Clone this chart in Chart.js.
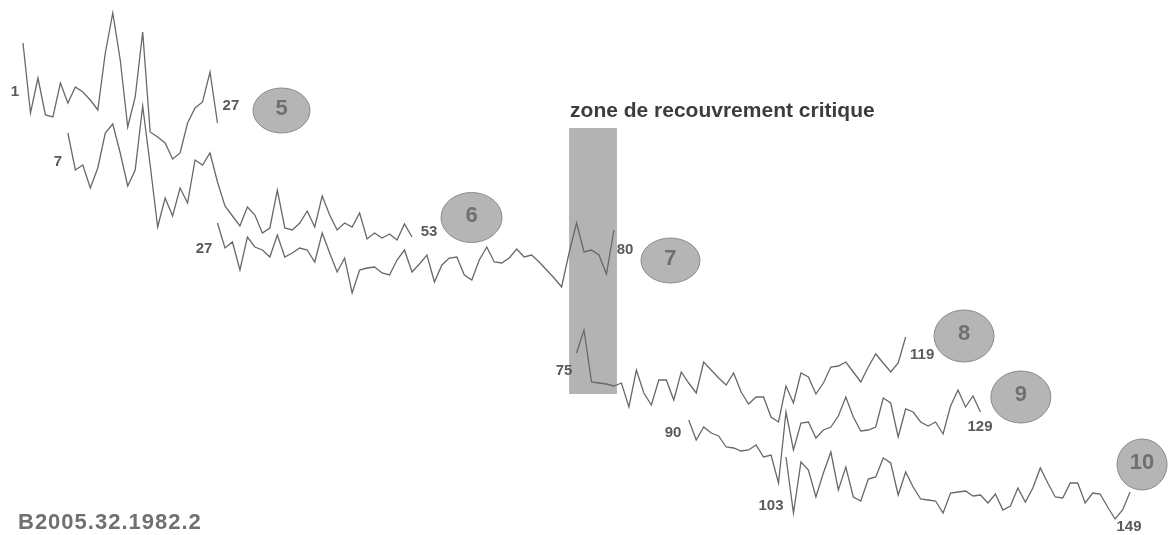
<!DOCTYPE html>
<html>
<head>
<meta charset="utf-8">
<script src="https://cdn.jsdelivr.net/npm/chart.js@4.4.1/dist/chart.umd.min.js"></script>
<style>
    html, body { margin: 0; padding: 0; background: #fff; }
    #wrap { position: relative; width: 1168px; height: 535px; }
    #caption {
        position: absolute; left: 18px; top: 511px;
        font: bold 22px "Liberation Sans", Arial, sans-serif; line-height: 22px;
        color: #707070; letter-spacing: 1px;
    }
</style>
</head>
<body>
<div id="wrap">
    <canvas id="chart"></canvas>
    <div id="caption">B2005.32.1982.2</div>
</div>
<script>
// séquences (numéro de cerne -> décalage vertical du tracé)
const seriesNames = ['5', '6', '7', '8', '9', '10'];
const startRings = [1, 7, 27, 75, 90, 103];

const seq5 = [43, 113, 78, 115, 117, 83, 103, 87, 92, 100, 110, 53, 13, 60, 127, 97, 32, 132, 137, 143,
    159, 153, 123, 108, 102, 72, 123];
const seq6 = [133, 170, 165, 188, 168, 133, 124, 153, 186, 170, 106, 165, 227, 198, 216, 188, 203, 160, 165, 153,
    182, 206, 216, 226, 207, 215, 233, 228, 190, 228, 230, 223, 211, 227, 196, 215, 230, 223, 227, 213,
    239, 233, 238, 234, 240, 224, 237];
const seq7 = [223, 248, 242, 270, 237, 247, 250, 257, 235, 257, 253, 248, 250, 262, 233, 253, 272, 258, 293, 270,
    268, 267, 273, 275, 260, 250, 272, 264, 255, 282, 265, 258, 257, 275, 280, 260, 247, 262, 263, 258,
    249, 257, 255, 262, 270, 278, 287, 253, 223, 252, 250, 255, 274, 230];
const seq8 = [353, 330, 382, 383, 384, 386, 383, 407, 370, 393, 405, 380, 380, 400, 372, 383, 393, 362, 370, 378,
    385, 373, 392, 404, 397, 397, 417, 422, 386, 403, 373, 377, 394, 383, 367, 366, 362, 372, 382, 367,
    354, 363, 372, 363, 337];
const seq9 = [420, 440, 427, 433, 436, 447, 448, 451, 450, 445, 457, 455, 483, 412, 450, 423, 422, 438, 430, 427,
    416, 397, 417, 431, 430, 427, 398, 403, 437, 409, 412, 422, 426, 422, 434, 406, 390, 407, 396, 412];
const seq10 = [457, 513, 462, 470, 497, 473, 452, 490, 467, 497, 501, 479, 477, 458, 463, 495, 472, 487, 499, 500,
    501, 513, 493, 492, 491, 496, 495, 503, 494, 510, 506, 488, 502, 488, 468, 483, 497, 498, 483, 483,
    503, 493, 494, 507, 519, 510, 492];

const sequences = [seq5, seq6, seq7, seq8, seq9, seq10];

// zone de recouvrement (en cernes)
const zoneRings = [74.0, 80.4];
const zoneSpan = [128, 394];
const zoneTitle = 'zone de recouvrement critique';

// mise en page des étiquettes (coordonnées du graphique)
const ringLabelPos = [
    [[-0.07, 92], [28.8, 106]],
    [[5.68, 162], [55.28, 232]],
    [[25.2, 249], [81.48, 250]],
    [[73.33, 371], [121.2, 355]],
    [[87.9, 433], [128.94, 427]],
    [[101.0, 506], [148.86, 527]]
];
const bubblePos = [
    { ring: 35.56, y: 110.5, rx: 28.5, ry: 22.5 },
    { ring: 60.96, y: 217.5, rx: 30.5, ry: 25 },
    { ring: 87.56, y: 260.5, rx: 29.5, ry: 22.5 },
    { ring: 126.8, y: 336, rx: 30, ry: 26 },
    { ring: 134.4, y: 397, rx: 30, ry: 26 },
    { ring: 150.6, y: 464.5, rx: 25, ry: 25.5 }
];

const FONT = '"Liberation Sans", Arial, sans-serif';

// dessin du rectangle, des bulles et des numéros
const decorPlugin = {
    id: 'decor',
    beforeDatasetsDraw(chart) {
        const { ctx, scales: { x, y } } = chart;
        const x0 = x.getPixelForValue(zoneRings[0]);
        const x1 = x.getPixelForValue(zoneRings[1]);
        const y0 = y.getPixelForValue(zoneSpan[0]);
        const y1 = y.getPixelForValue(zoneSpan[1]);
        ctx.save();
        ctx.fillStyle = '#b3b3b3';
        ctx.fillRect(x0, y0, x1 - x0, y1 - y0);
        ctx.fillStyle = '#3c3c3c';
        ctx.font = 'bold 21px ' + FONT;
        ctx.textBaseline = 'alphabetic';
        ctx.textAlign = 'left';
        ctx.fillText(zoneTitle, x0 + 1, y0 - 11);
        ctx.restore();
    },
    afterDatasetsDraw(chart) {
        const { ctx, scales: { x, y } } = chart;
        ctx.save();

        // numéros de cernes (début / fin)
        ctx.fillStyle = '#5a5a5a';
        ctx.font = 'bold 15px ' + FONT;
        ctx.textAlign = 'center';
        ctx.textBaseline = 'middle';
        sequences.forEach((seq, i) => {
            const first = startRings[i];
            const last = first + seq.length - 1;
            const [p0, p1] = ringLabelPos[i];
            ctx.fillText(String(first), x.getPixelForValue(p0[0]), y.getPixelForValue(p0[1]));
            ctx.fillText(String(last), x.getPixelForValue(p1[0]), y.getPixelForValue(p1[1]));
        });

        // bulles numérotées
        bubblePos.forEach((b, i) => {
            const cx = x.getPixelForValue(b.ring);
            const cy = y.getPixelForValue(b.y);
            ctx.beginPath();
            ctx.ellipse(cx, cy, b.rx, b.ry, 0, 0, Math.PI * 2);
            ctx.fillStyle = '#b5b5b5';
            ctx.fill();
            ctx.strokeStyle = '#8a8a8a';
            ctx.lineWidth = 1;
            ctx.stroke();
            ctx.fillStyle = '#707070';
            ctx.font = 'bold 22px ' + FONT;
            ctx.fillText(seriesNames[i], cx, cy - 2);
        });
        ctx.restore();
    }
};

function buildDatasets() {
    return sequences.map((seq, i) => ({
        label: seriesNames[i],
        data: seq.map((v, k) => ({ x: startRings[i] + k, y: v })),
        borderColor: '#686868',
        borderWidth: 1.3,
        pointRadius: 0,
        tension: 0,
        fill: false
    }));
}

document.addEventListener('DOMContentLoaded', function() {
    const canvas = document.getElementById('chart');
    canvas.width = 1168;
    canvas.height = 535;

    new Chart(canvas, {
        type: 'line',
        data: { datasets: buildDatasets() },
        options: {
            responsive: false,
            animation: false,
            layout: { padding: 0 },
            plugins: { legend: { display: false }, tooltip: { enabled: false } },
            scales: {
                x: { type: 'linear', min: -2.075, max: 154.07, display: false },
                y: { type: 'linear', min: 0, max: 535, reverse: true, display: false }
            }
        },
        plugins: [decorPlugin]
    });
});
</script>
</body>
</html>
